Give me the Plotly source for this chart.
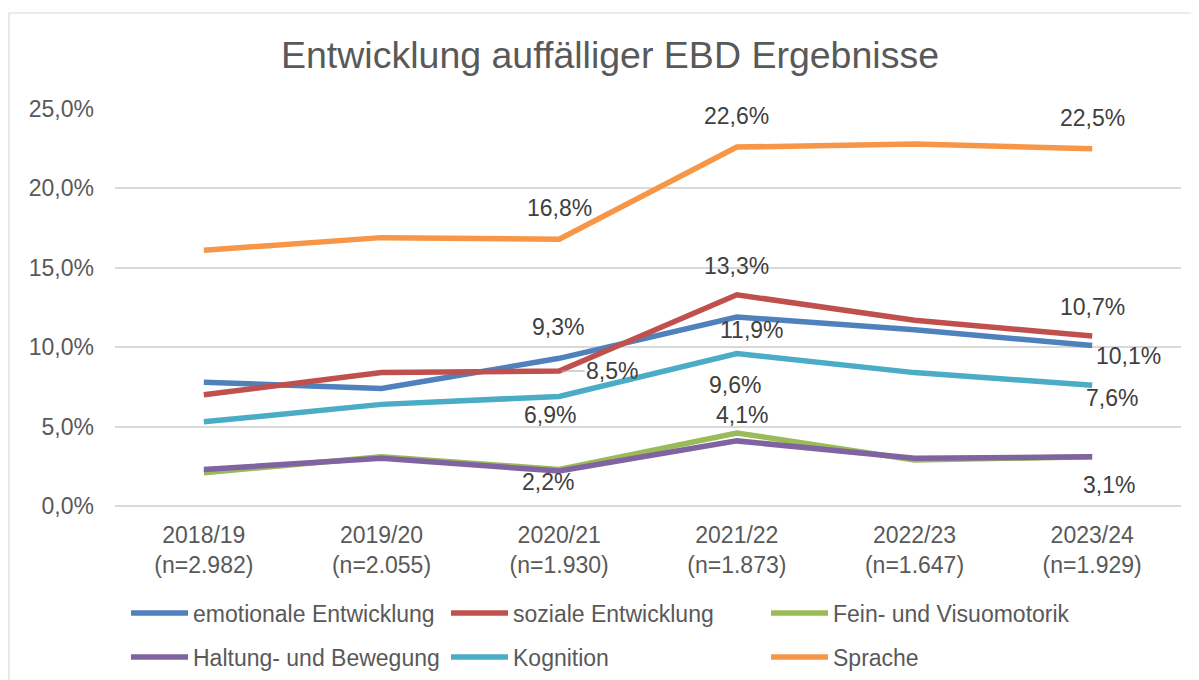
import plotly.graph_objects as go

# ---- data ----
categories = ["2018/19<br>(n=2.982)", "2019/20<br>(n=2.055)", "2020/21<br>(n=1.930)",
              "2021/22<br>(n=1.873)", "2022/23<br>(n=1.647)", "2023/24<br>(n=1.929)"]
emotionale = [7.8, 7.4, 9.3, 11.9, 11.1, 10.1]
soziale = [7.0, 8.4, 8.5, 13.3, 11.7, 10.7]
feinmotorik = [2.1, 3.1, 2.3, 4.6, 2.9, 3.1]
haltung = [2.3, 3.0, 2.2, 4.1, 3.0, 3.1]
kognition = [5.3, 6.4, 6.9, 9.6, 8.4, 7.6]
sprache = [16.1, 16.9, 16.8, 22.6, 22.8, 22.5]
series_names = ["emotionale Entwicklung", "soziale Entwicklung", "Fein- und Visuomotorik",
                "Haltung- und Bewegung", "Kognition", "Sprache"]
series_values = [emotionale, soziale, feinmotorik, haltung, kognition, sprache]
y_ticks = [0, 5, 10, 15, 20, 25]

# ---- styling ----
colors = ["#4F81BD", "#C0504D", "#9BBB59", "#8064A2", "#4BACC6", "#F79646"]
legend_of = ["legend", "legend", "legend", "legend2", "legend2", "legend2"]

# labels: (series index, point index, xshift px, yshift px, arrow)
label_specs = [
    (5, 2, 0, 31, False), (0, 2, -1, 31, False), (1, 2, 0, 0, True),
    (4, 2, -9, -19, False), (3, 2, -11, -11, False),
    (5, 3, 0, 31, False), (1, 3, 0, 29, False), (0, 3, 15, -13, False),
    (4, 3, -2, -31, False), (3, 3, 5, 26, False),
    (5, 5, 0, 31, False), (1, 5, 0, 29, False), (0, 5, 36, -10, False),
    (4, 5, 20, -13, False), (3, 5, 17, -28, False),
]

def fmt(v):
    return f"{v:.1f}".replace(".", ",") + "%"

FONT = "Liberation Sans, Arial, sans-serif"
OFF = 8  # page body margin
W, H = 1199 - OFF, 720

fig = go.Figure()
for i in range(len(series_values)):
    fig.add_trace(go.Scatter(
        x=categories, y=series_values[i], name=series_names[i], mode="lines",
        line=dict(color=colors[i], width=5.5), legend=legend_of[i],
        hoverinfo="skip"))

for si, pi, dx, dy, arrow in label_specs:
    v = series_values[si][pi]
    if arrow:
        fig.add_annotation(x=categories[pi], y=v, xref="x", yref="y", text=fmt(v),
                           showarrow=True, arrowhead=0, arrowwidth=1.2, arrowcolor="#A6A6A6",
                           ax=53, ay=0, standoff=2,
                           font=dict(family=FONT, size=23, color="#404040"))
    else:
        fig.add_annotation(x=categories[pi], y=v, xref="x", yref="y", text=fmt(v),
                           showarrow=False, xshift=dx, yshift=dy,
                           font=dict(family=FONT, size=23, color="#404040"))

fig.add_shape(type="rect", xref="paper", yref="paper",
              x0=(9 - 115) / 1066, x1=(1240 - 115) / 1066,
              y0=(506 - 740) / 397, y1=(506 - 13) / 397,
              line=dict(color="#D9D9D9", width=1.2), fillcolor="rgba(0,0,0,0)", layer="below")

legend_common = dict(orientation="h", xanchor="left", yanchor="middle",
                     font=dict(family=FONT, size=23, color="#595959"),
                     bgcolor="rgba(0,0,0,0)", itemwidth=57, entrywidth=248,
                     traceorder="normal", itemclick=False, itemdoubleclick=False)

fig.update_layout(
    width=W, height=H,
    paper_bgcolor="white", plot_bgcolor="white",
    margin=dict(l=115 - OFF, r=1199 - 1181, t=109 - OFF, b=H - (506 - OFF)),
    separators=",.",
    title=dict(text="Entwicklung auffälliger EBD Ergebnisse", x=(610 - OFF) / W, xanchor="center",
               y=(H - (55 - OFF)) / H, yanchor="middle",
               font=dict(family=FONT, size=37.5, color="#595959")),
    showlegend=True,
    legend=dict(x=(126 - 115) / 1066, y=(506 - 613) / 397, **legend_common),
    legend2=dict(x=(126 - 115) / 1066, y=(506 - 657) / 397, **legend_common),
    font=dict(family=FONT, color="#595959"),
)
fig.update_xaxes(type="category", range=[-0.5, 5.5], showgrid=False, showline=False,
                 zeroline=False, ticks="", tickfont=dict(family=FONT, size=23, color="#595959"),
                 ticklabelstandoff=13)
fig.update_yaxes(range=[0, 25], tickmode="array", tickvals=y_ticks,
                 ticktext=[fmt(t) for t in y_ticks],
                 showgrid=True, gridcolor="#D9D9D9", gridwidth=1.5,
                 zeroline=True, zerolinecolor="#D9D9D9", zerolinewidth=1.5,
                 showline=False, ticks="", ticklabelstandoff=20,
                 tickfont=dict(family=FONT, size=23, color="#595959"))

fig.write_html("out.html")
